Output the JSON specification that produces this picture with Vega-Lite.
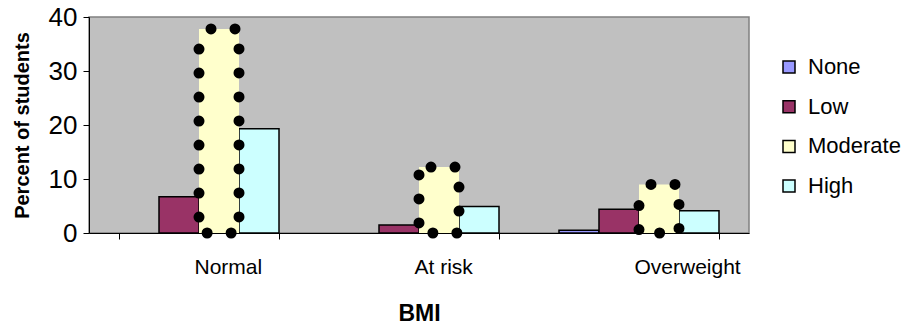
{
  "$schema": "https://vega.github.io/schema/vega-lite/v6.json",
  "autosize": "none",
  "width": 660,
  "height": 216,
  "padding": {"left": 89, "top": 17, "right": 160, "bottom": 96},
  "config": {
    "font": "Liberation Sans",
    "view": {"fill": "#C0C0C0", "stroke": "#808080", "strokeWidth": 1.5}
  },
  "data": {
    "values": [
      {"BMI": "Normal", "level": "None", "percent": 0},
      {"BMI": "Normal", "level": "Low", "percent": 6.7},
      {"BMI": "Normal", "level": "Moderate", "percent": 37.8},
      {"BMI": "Normal", "level": "High", "percent": 19.3},
      {"BMI": "At risk", "level": "None", "percent": 0},
      {"BMI": "At risk", "level": "Low", "percent": 1.5},
      {"BMI": "At risk", "level": "Moderate", "percent": 12.2},
      {"BMI": "At risk", "level": "High", "percent": 4.9},
      {"BMI": "Overweight", "level": "None", "percent": 0.5},
      {"BMI": "Overweight", "level": "Low", "percent": 4.4},
      {"BMI": "Overweight", "level": "Moderate", "percent": 9.0},
      {"BMI": "Overweight", "level": "High", "percent": 4.1}
    ]
  },
  "encoding": {
    "x": {
      "field": "BMI", "type": "nominal", "sort": ["Normal", "At risk", "Overweight"],
      "scale": {"paddingInner": 0.2727, "paddingOuter": 0.1364},
      "axis": {
        "title": "BMI", "labelAngle": 0, "tickBand": "extent",
        "labelFontSize": 21, "labelColor": "black", "labelPadding": 17,
        "labelAlign": "left", "labelOffset": -5,
        "tickSize": 6, "tickColor": "black", "domainColor": "black",
        "titleFontSize": 23, "titleFontWeight": "bold", "titleColor": "black", "titlePadding": 25
      }
    },
    "xOffset": {
      "field": "level", "type": "nominal",
      "scale": {"domain": ["None", "Low", "Moderate", "High"], "paddingInner": 0, "paddingOuter": 0}
    },
    "y": {
      "field": "percent", "type": "quantitative",
      "scale": {"domain": [0, 40]},
      "axis": {
        "title": "Percent of students", "values": [0, 10, 20, 30, 40], "grid": false,
        "labelFontSize": 26, "labelColor": "black", "labelPadding": 6,
        "tickSize": 6, "tickColor": "black", "domainColor": "black",
        "titleFontSize": 20, "titleFontWeight": "bold", "titleColor": "black", "titlePadding": 16
      }
    },
    "color": {
      "field": "level", "type": "nominal",
      "scale": {"domain": ["None", "Low", "Moderate", "High"], "range": ["#9999FF", "#993366", "#FFFFCC", "#CCFFFF"]},
      "legend": {
        "title": null, "orient": "none", "legendX": 689, "legendY": 39, "padding": 0,
        "symbolType": "square", "symbolSize": 144, "symbolStrokeColor": "black", "symbolStrokeWidth": 1.5,
        "symbolOpacity": 1, "symbolFillOpacity": 1,
        "labelFontSize": 22, "labelColor": "black", "labelOffset": 8, "rowPadding": 17.7
      }
    }
  },
  "layer": [
    {
      "transform": [{"filter": "datum.level !== 'Moderate' && datum.percent > 0"}],
      "mark": {"type": "bar", "stroke": "black", "strokeWidth": 1.5, "opacity": 1}
    },
    {
      "transform": [{"filter": "datum.level === 'Moderate'"}],
      "mark": {"type": "bar", "stroke": "black", "strokeWidth": 11, "strokeDash": [0, 24], "strokeDashOffset": 12, "strokeCap": "round", "opacity": 1}
    }
  ]
}
